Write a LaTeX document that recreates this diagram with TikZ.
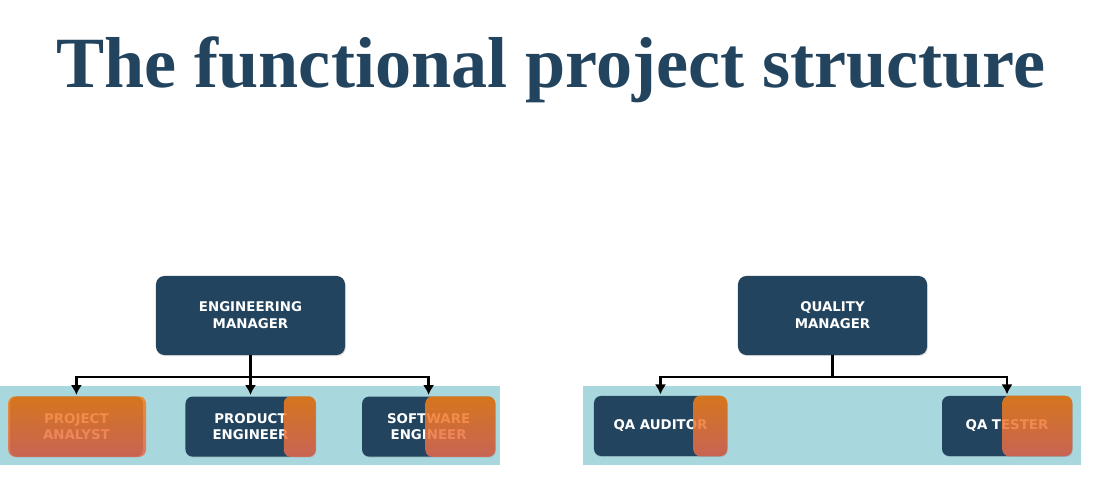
\documentclass[tikz,border=0pt]{standalone}
\usepackage{fontspec}
\setmainfont{Liberation Serif}
\newfontfamily\boxfont{DejaVu Sans}
\usepackage{tikz}
\usetikzlibrary{positioning,shapes,arrows,arrows.meta,shadows}

\definecolor{navy}{RGB}{35,68,94}
\definecolor{band}{RGB}{168,216,222}
\definecolor{orangetop}{RGB}{245,127,19}
\definecolor{orangebot}{RGB}{229,106,83}

\begin{document}
\begin{tikzpicture}[x=0.025cm,y=0.025cm,
										node distance=1.025cm and 1.05cm,
										boss/.style={fill=navy,text=white,rounded corners=6pt,minimum width=4.725cm,minimum height=1.975cm,inner sep=0pt,align=center,font=\boxfont\bfseries\fontsize{9.5}{11.9}\selectfont,drop shadow={opacity=0.25,shadow xshift=0.6pt,shadow yshift=-0.8pt}},
										staff/.style={boss,minimum width=3.325cm,minimum height=1.5cm,rounded corners=5pt},
										cover/.style={top color=orangetop,bottom color=orangebot,opacity=0.85,rounded corners=5pt},
										strip/.style={fill=band,draw=none},
										link/.style={-{Latex[length=7pt,width=8pt]},line width=1.6pt}
										]
	\useasboundingbox (0,0) rectangle (1095,478);

	% title
	\node[anchor=base,text=navy,font=\bfseries\fontsize{51.3}{58}\selectfont] (title) at (551,390) {The functional project structure};

	% bands
	\fill[strip] (0,13) rectangle (500,92);
	\fill[strip] (583,13) rectangle (1081,92);

	% engineering side
	\node[boss] (EM) at (250.5,162.5) {ENGINEERING\\MANAGER};
	\node[staff,below=of EM,minimum width=3.25cm] (PE) {PRODUCT\\ENGINEER};
	\node[staff,left=1.05cm of PE] (PA) {PROJECT\\ANALYST};
	\node[staff,right=1.15cm of PE] (SE) {SOFTWARE\\ENGINEER};

	% quality side
	\node[boss] (QM) at (832.5,162.5) {QUALITY\\MANAGER};
	\node[staff] (QA) at (660.5,52) {QA AUDITOR};
	\node[staff,minimum width=3.25cm] (QT) at (1007,52) {QA TESTER};

	% connectors
	\draw[link] (EM.south) -- ++(0,-22) coordinate (EMfork) -| ([yshift=1pt]PA.north);
	\draw[link] (EMfork) -- ([yshift=1pt]PE.north);
	\draw[link] (EMfork) -| ([yshift=1pt]SE.north);
	\draw[link] (QM.south) -- ++(0,-22) coordinate (QMfork) -| ([yshift=1pt]QA.north);
	\draw[link] (QMfork) -| ([yshift=1pt]QT.north);

	% orange covers
	\shade[cover] ([xshift=-1pt]PA.south west) rectangle ([xshift=2pt]PA.north east);
	\shade[cover] ([xshift=-0.8cm]PE.south east) rectangle (PE.north east);
	\shade[cover] ([xshift=-1.75cm]SE.south east) rectangle (SE.north east);
	\shade[cover] ([xshift=-0.85cm]QA.south east) rectangle (QA.north east);
	\shade[cover] ([xshift=-1.75cm]QT.south east) rectangle (QT.north east);

\end{tikzpicture}
\end{document}
